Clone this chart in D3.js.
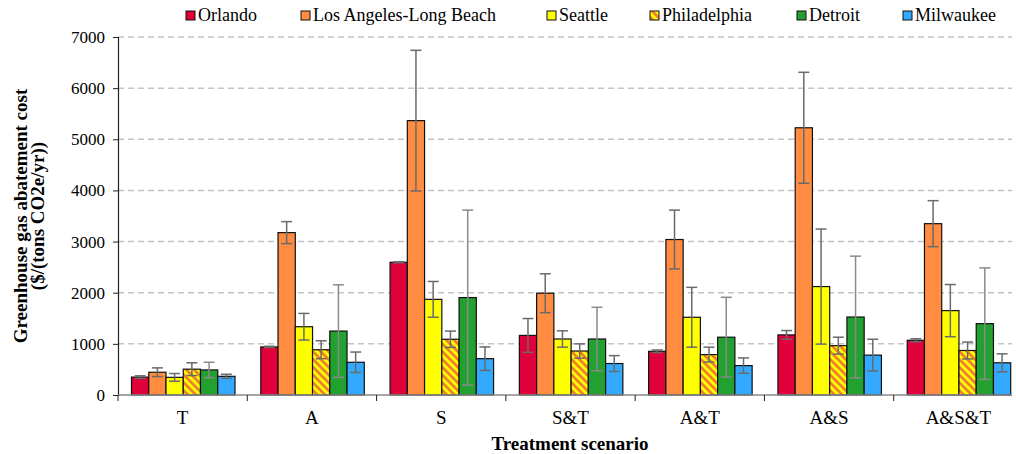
<!DOCTYPE html>
<html>
<head>
<meta charset="utf-8">
<script src="https://cdn.jsdelivr.net/npm/d3@7"></script>
<style>
  html, body { margin: 0; padding: 0; background: #fff; }
  svg { display: block; }
  svg text { font-family: "Times New Roman", Times, "Liberation Serif", Tinos, "Nimbus Roman", "DejaVu Serif", "Noto Serif", serif; fill: #000; }
</style>
</head>
<body>
<svg id="chart" width="1016" height="454"></svg>
<script>
// Treatment scenarios on the x axis
const scenarios = ["T", "A", "S", "S&T", "A&T", "A&S", "A&S&T"];
// Cities (one bar per city in each scenario)
const cities = ["Orlando", "Los Angeles-Long Beach", "Seattle", "Philadelphia", "Detroit", "Milwaukee"];
// Mean abatement cost, $/(tons CO2e/yr), one array per city, in scenario order
const orlando      = [350,  940, 2595, 1165,  855, 1175, 1070];
const losAngeles   = [445, 3175, 5365, 1990, 3040, 5225, 3350];
const seattle      = [345, 1335, 1870, 1095, 1520, 2120, 1650];
const philadelphia = [505,  885, 1090,  860,  790,  965,  870];
const detroit      = [490, 1250, 1905, 1095, 1130, 1525, 1395];
const milwaukee    = [365,  640,  710,  615,  575,  780,  630];
// Half-width of the error bars, same units
const orlandoErr      = [ 25,   12,   10,  330,   25,   85,   30];
const losAngelesErr   = [ 85,  215, 1375,  380,  575, 1085,  450];
const seattleErr      = [ 75,  260,  350,  160,  585, 1125,  510];
const philadelphiaErr = [125,  175,  160,  140,  145,  165,  165];
const detroitErr      = [150,  905, 1710,  620,  780, 1190, 1090];
const milwaukeeErr    = [ 40,  200,  230,  155,  150,  310,  175];
// y-axis ticks
const yTicks = [0, 1000, 2000, 3000, 4000, 5000, 6000, 7000];

const seriesValues = [orlando, losAngeles, seattle, philadelphia, detroit, milwaukee];
const seriesErrors = [orlandoErr, losAngelesErr, seattleErr, philadelphiaErr, detroitErr, milwaukeeErr];

const fills = ["#E0003A", "#FF8C40", "#FFFF00", "url(#hatch)", "#22A030", "#33AAFF"];

const svg = d3.select("#chart");
const plotLeft = 118, plotRight = 1023, plotTop = 37, plotBottom = 395, gridEnd = 1012;

// Diagonal orange-on-yellow hatch for Philadelphia
const defs = svg.append("defs");
const pat = defs.append("pattern")
  .attr("id", "hatch").attr("patternUnits", "userSpaceOnUse")
  .attr("width", 5.5).attr("height", 5.5)
  .attr("patternTransform", "rotate(-45)");
pat.append("rect").attr("width", 5.5).attr("height", 5.5).attr("fill", "#FFFF00");
pat.append("rect").attr("x", 0).attr("width", 2.75).attr("height", 5.5).attr("fill", "#F08030");

const x0 = d3.scaleBand().domain(scenarios).range([plotLeft, plotRight]).padding(0);
const x1 = d3.scaleBand().domain(cities).range([13.5, 117]).padding(0);
const y = d3.scaleLinear().domain([0, 7000]).range([plotBottom, plotTop]);

// Dashed horizontal gridlines
svg.append("g").selectAll("line")
  .data(yTicks.filter(d => d > 0))
  .join("line")
  .attr("x1", plotLeft).attr("x2", gridEnd)
  .attr("y1", d => y(d)).attr("y2", d => y(d))
  .attr("stroke", "#C4C4C4").attr("stroke-width", 1.5)
  .attr("stroke-dasharray", "6,4");

// Bars
const groups = svg.append("g").selectAll("g")
  .data(scenarios)
  .join("g")
  .attr("transform", d => `translate(${x0(d)},0)`);

const rowsFor = i => cities.map((c, k) => ({ c, k, v: seriesValues[k][i], e: seriesErrors[k][i] }));

groups.selectAll("rect")
  .data((s, i) => rowsFor(i))
  .join("rect")
  .attr("x", d => x1(d.c))
  .attr("width", x1.bandwidth())
  .attr("y", d => y(d.v))
  .attr("height", d => y(0) - y(d.v))
  .attr("fill", d => fills[d.k])
  .attr("stroke", "#111").attr("stroke-width", 1.2);

// Error bars
const eb = groups.selectAll("g.err")
  .data((s, i) => rowsFor(i))
  .join("g").attr("class", "err")
  .attr("stroke", d => d.k === 4 ? "#8A8A8A" : "#6A6A6A")
  .attr("stroke-width", 1.5);
const cx = d => x1(d.c) + x1.bandwidth() / 2;
eb.append("line")
  .attr("x1", cx).attr("x2", cx)
  .attr("y1", d => y(d.v + d.e)).attr("y2", d => y(d.v - d.e));
eb.append("line")
  .attr("x1", d => cx(d) - 5.5).attr("x2", d => cx(d) + 5.5)
  .attr("y1", d => y(d.v + d.e)).attr("y2", d => y(d.v + d.e));
eb.append("line")
  .attr("x1", d => cx(d) - 5.5).attr("x2", d => cx(d) + 5.5)
  .attr("y1", d => y(d.v - d.e)).attr("y2", d => y(d.v - d.e));

// Y axis
const yAxis = svg.append("g")
  .attr("transform", `translate(${plotLeft},0)`)
  .call(d3.axisLeft(y).tickValues(yTicks).tickSize(5).tickPadding(8).tickFormat(d3.format("d")))
  .attr("font-family", null);
yAxis.select(".domain").attr("stroke", "#222").attr("stroke-width", 1.2);
yAxis.selectAll(".tick line").attr("stroke", "#222");
yAxis.selectAll("text").attr("font-size", 17).attr("fill", "#000");

// X axis: ticks sit on category boundaries
const boundaries = scenarios.map(s => x0(s)).concat([plotRight]);
svg.append("line")
  .attr("x1", plotLeft).attr("x2", gridEnd).attr("y1", plotBottom).attr("y2", plotBottom)
  .attr("stroke", "#888").attr("stroke-width", 1.5);
svg.append("g").selectAll("line")
  .data(boundaries)
  .join("line")
  .attr("x1", d => d).attr("x2", d => d)
  .attr("y1", plotBottom).attr("y2", plotBottom + 6)
  .attr("stroke", "#222").attr("stroke-width", 1);
svg.append("g").selectAll("text")
  .data(scenarios)
  .join("text")
  .attr("x", d => x0(d) + x0.bandwidth() / 2)
  .attr("y", 424)
  .attr("text-anchor", "middle")
  .attr("font-size", 19)
  .text(d => d);

// Axis titles
svg.append("text")
  .attr("x", 570).attr("y", 450)
  .attr("text-anchor", "middle")
  .attr("font-size", 19).attr("font-weight", "bold")
  .text("Treatment scenario");
const yt = svg.append("text")
  .attr("transform", "translate(27,216) rotate(-90)")
  .attr("text-anchor", "middle")
  .attr("font-size", 19).attr("font-weight", "bold");
yt.append("tspan").attr("x", 0).attr("dy", 0).text("Greenhouse gas abatement cost");
yt.append("tspan").attr("x", 0).attr("dy", 17).text("($/(tons CO2e/yr))");

// Legend
const legendX = [186, 301, 547, 650, 797, 903];
const lg = svg.append("g").selectAll("g")
  .data(cities)
  .join("g")
  .attr("transform", (d, i) => `translate(${legendX[i]},11)`);
lg.append("rect")
  .attr("width", 9).attr("height", 9)
  .attr("fill", (d, i) => fills[i])
  .attr("stroke", "#111").attr("stroke-width", 1);
lg.append("text")
  .attr("x", 12).attr("y", 10)
  .attr("font-size", 18)
  .text(d => d);
</script>
</body>
</html>
